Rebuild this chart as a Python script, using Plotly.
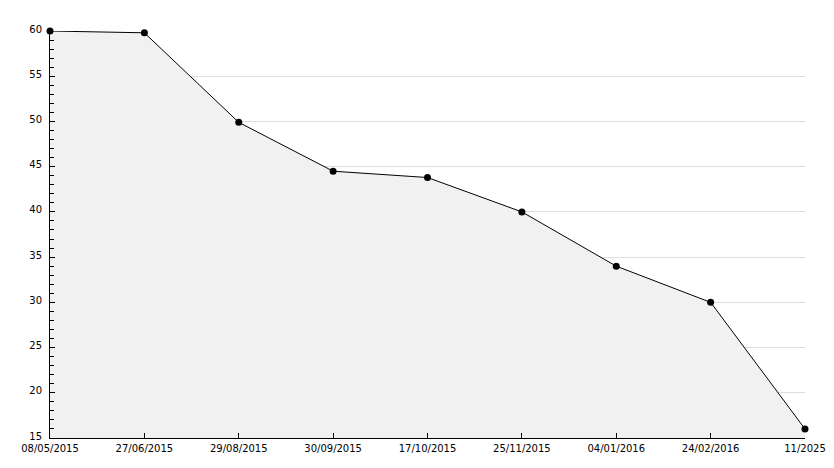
import plotly.graph_objects as go

dates = ["08/05/2015", "27/06/2015", "29/08/2015", "30/09/2015", "17/10/2015",
         "25/11/2015", "04/01/2016", "24/02/2016", "11/2025"]
values = [60, 59.8, 49.9, 44.5, 43.8, 40.0, 34.0, 30.0, 16.0]

fig = go.Figure()
fig.add_trace(go.Scatter(
    x=dates, y=values, mode="lines+markers",
    line=dict(color="black", width=1),
    marker=dict(color="black", size=7, symbol="circle"),
    fill="tozeroy", fillcolor="#f1f1f1",
    cliponaxis=False, showlegend=False,
))

font = dict(family="DejaVu Sans", size=10, color="black")
fig.update_layout(
    width=826, height=460,
    margin=dict(l=42, r=29, t=23, b=30),
    paper_bgcolor="white", plot_bgcolor="white",
    font=font,
    xaxis=dict(type="category", range=[0, 8], showgrid=False, showline=True,
               linecolor="black", linewidth=1, ticks="inside", ticklen=5,
               tickcolor="black", zeroline=False, automargin=False,
               ticklabelstandoff=1),
    yaxis=dict(range=[15, 60], dtick=5, tick0=0, showgrid=True, gridcolor="#dddddd",
               showline=True, linecolor="black", linewidth=1, ticks="inside",
               ticklen=5, tickcolor="black", zeroline=False, automargin=False,
               ticklabelshift=-2, ticklabelstandoff=5,
               minor=dict(dtick=1, ticks="inside", ticklen=4, tickcolor="black", showgrid=False)),
)
fig.write_html("out.html")
